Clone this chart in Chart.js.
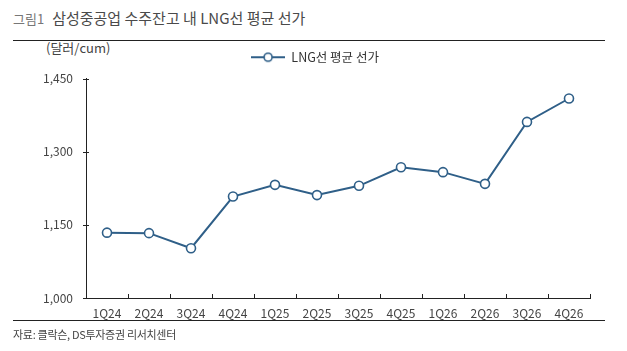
<!DOCTYPE html>
<html>
<head>
<meta charset="utf-8">
<script src="https://cdn.jsdelivr.net/npm/chart.js@4.4.1/dist/chart.umd.min.js"></script>
<style>
  body { margin: 0; background: #fff; font-family: "Noto Sans CJK KR", "Noto Sans", sans-serif; }
  .wrap { position: relative; width: 627px; height: 351px; overflow: hidden; }
  .title { position: absolute; left: 13px; top: 5px; font-size: 15px; line-height: 26px; color: #4a4a4a; white-space: nowrap; }
  .title .num { color: #777; font-size: 13px; margin-right: 8px; }
  .rule { position: absolute; left: 13px; width: 592px; height: 1px; background: #222; }
  .unit { position: absolute; left: 46px; top: 38px; font-size: 13px; color: #444; }
  .source { position: absolute; left: 13px; top: 326px; font-size: 11px; color: #444; letter-spacing: -0.3px; }
  canvas { position: absolute; left: 0; top: 0; }
</style>
</head>
<body>
<div class="wrap">
  <div class="title"><span class="num">그림1</span>삼성중공업 수주잔고 내 LNG선 평균 선가</div>
  <div class="rule" style="top:40px"></div>
  <div class="unit">(달러/cum)</div>
  <canvas id="chart" width="627" height="351"></canvas>
  <div class="rule" style="top:320px"></div>
  <div class="source">자료: 클락슨, DS투자증권 리서치센터</div>
</div>
<script>
const quarters = ["1Q24","2Q24","3Q24","4Q24","1Q25","2Q25","3Q25","4Q25","1Q26","2Q26","3Q26","4Q26"];
const avgPrice = [1134,1133,1102,1208,1232,1211,1230,1268,1258,1234,1361,1409];
const yTicks = [1000,1150,1300,1450];

const lineColor = "#2f5f88";

// legend symbol: line with a hollow circle
const sym = document.createElement("canvas");
sym.width = 34; sym.height = 12;
const sc = sym.getContext("2d");
sc.strokeStyle = lineColor; sc.lineWidth = 2;
sc.beginPath(); sc.moveTo(0, 6); sc.lineTo(34, 6); sc.stroke();
sc.fillStyle = "#fff"; sc.lineWidth = 1.6;
sc.beginPath(); sc.arc(17, 6, 4, 0, Math.PI * 2); sc.fill(); sc.stroke();

// small tick marks pointing into the plot
const inwardTicks = {
    id: "inwardTicks",
    afterDraw(chart) {
        const {ctx, scales: {x, y}} = chart;
        ctx.save();
        ctx.strokeStyle = "#222";
        ctx.lineWidth = 1;
        const w = (x.right - x.left) / quarters.length;
        for (let i = 1; i <= quarters.length; i++) {
            const px = Math.round(x.left + i * w) + 0.5;
            ctx.beginPath(); ctx.moveTo(px, y.bottom); ctx.lineTo(px, y.bottom - 4); ctx.stroke();
        }
        yTicks.forEach(v => {
            const py = Math.round(y.getPixelForValue(v)) + 0.5;
            ctx.beginPath(); ctx.moveTo(x.left - 3, py); ctx.lineTo(x.left + 3, py); ctx.stroke();
        });
        ctx.restore();
    }
};

new Chart(document.getElementById("chart"), {
    type: "line",
    data: {
        labels: quarters,
        datasets: [{
            label: "LNG선 평균 선가",
            data: avgPrice,
            borderColor: lineColor,
            borderWidth: 2,
            pointRadius: 4.5,
            pointBorderWidth: 1.6,
            pointBackgroundColor: "#fff",
            pointBorderColor: lineColor,
            pointStyle: "circle",
        }],
    },
    options: {
        responsive: false,
        animation: false,
        layout: { padding: { top: 40, right: 37, left: 40, bottom: 0 } },
        plugins: {
            // empty spacer between legend and plot
            title: {
                display: true,
                text: " ",
                weight: 500,
                font: { size: 1, lineHeight: 1 },
                padding: { top: 0, bottom: 4 },
            },
            legend: {
                labels: {
                    usePointStyle: true,
                    pointStyle: sym,
                    pointStyleWidth: 34,
                    font: { family: "Noto Sans CJK KR", size: 12.5 },
                    color: "#333",
                    padding: 11,
                    generateLabels: (chart) => [{
                        text: chart.data.datasets[0].label,
                        pointStyle: sym,
                        fontColor: "#333",
                        lineWidth: 0,
                        datasetIndex: 0,
                    }],
                },
            },
            tooltip: { enabled: false },
        },
        scales: {
            x: {
                offset: true,
                grid: { display: false, drawTicks: false },
                border: { color: "#222", width: 1 },
                ticks: { color: "#444", font: { family: "Noto Sans CJK KR", size: 12 }, padding: 8, maxRotation: 0 },
                afterFit: s => { s.height = 53; },
            },
            y: {
                min: 1000,
                max: 1450,
                afterBuildTicks: s => { s.ticks = yTicks.map(v => ({ value: v })); },
                grid: { display: false, drawTicks: false },
                border: { color: "#222", width: 1 },
                ticks: {
                    color: "#444",
                    font: { family: "Noto Sans CJK KR", size: 12 },
                    padding: 13,
                    callback: v => v.toLocaleString("en-US"),
                },
                afterFit: s => { s.width = 46; },
            },
        },
    },
    plugins: [inwardTicks],
});
</script>
</body>
</html>
